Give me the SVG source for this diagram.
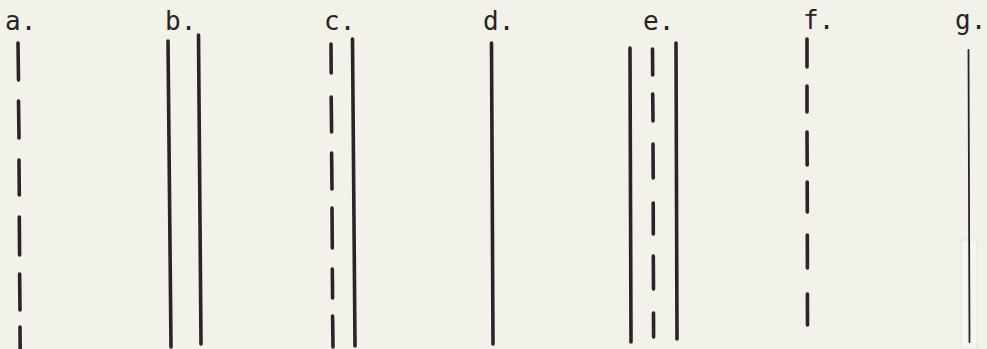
<svg xmlns="http://www.w3.org/2000/svg" width="987" height="349" viewBox="0 0 987 349">
<style>
.bg{fill:#f2f1ea}
.lbl{font-family:"DejaVu Sans Mono","Liberation Mono",monospace;font-size:26px;fill:#2a2326}
.ln{stroke:#2b2427;stroke-width:3.6;stroke-linecap:round;fill:none}
.thin{stroke:#2b2427;stroke-width:1.8;stroke-linecap:round;fill:none}
</style>
<rect class="bg" x="0" y="0" width="987" height="349"/>
<g id="a">
<text class="lbl" x="5" y="30">a.</text>
<line class="ln" x1="18" y1="43" x2="18.5" y2="80"/>
<line class="ln" x1="18.5" y1="101" x2="19" y2="138"/>
<line class="ln" x1="19" y1="160" x2="19.3" y2="195"/>
<line class="ln" x1="19.3" y1="217" x2="19.6" y2="255"/>
<line class="ln" x1="19.6" y1="274" x2="20" y2="310"/>
<line class="ln" x1="20" y1="327" x2="20.2" y2="352"/>
</g>
<g id="b">
<text class="lbl" x="165" y="30">b.</text>
<line class="ln" x1="168" y1="41" x2="171" y2="347"/>
<line class="ln" x1="198.5" y1="35" x2="201" y2="344"/>
</g>
<g id="c">
<text class="lbl" x="324" y="30">c.</text>
<line class="ln" x1="331" y1="44" x2="331.2" y2="73"/>
<line class="ln" x1="331.2" y1="97" x2="331.6" y2="132"/>
<line class="ln" x1="331.6" y1="153" x2="332" y2="189"/>
<line class="ln" x1="332" y1="208" x2="332.3" y2="248"/>
<line class="ln" x1="332.3" y1="269" x2="332.6" y2="298"/>
<line class="ln" x1="332.6" y1="316" x2="333" y2="347"/>
<line class="ln" x1="352.5" y1="39" x2="355" y2="346"/>
</g>
<g id="d">
<text class="lbl" x="483" y="30">d.</text>
<line class="ln" x1="491.5" y1="43" x2="493" y2="344"/>
</g>
<g id="e">
<text class="lbl" x="643" y="30">e.</text>
<line class="ln" x1="630" y1="48" x2="631" y2="342"/>
<line class="ln" x1="652.5" y1="49" x2="652.7" y2="75"/>
<line class="ln" x1="652.7" y1="94" x2="653" y2="121"/>
<line class="ln" x1="653" y1="144" x2="653.2" y2="178"/>
<line class="ln" x1="653.2" y1="203" x2="653.3" y2="234"/>
<line class="ln" x1="653.3" y1="256" x2="653.5" y2="289"/>
<line class="ln" x1="653.5" y1="313" x2="653.6" y2="337"/>
<line class="ln" x1="676" y1="43" x2="677" y2="339"/>
</g>
<g id="f">
<text class="lbl" x="803" y="29">f.</text>
<line class="ln" x1="807" y1="39" x2="807" y2="67"/>
<line class="ln" x1="807" y1="86" x2="807" y2="112"/>
<line class="ln" x1="807" y1="132" x2="807.2" y2="165"/>
<line class="ln" x1="807.2" y1="182" x2="807.3" y2="212"/>
<line class="ln" x1="807.3" y1="235" x2="807.4" y2="268"/>
<line class="ln" x1="807.4" y1="294" x2="807.5" y2="325"/>
</g>
<g id="g">
<text class="lbl" x="955" y="29">g.</text>
<rect x="961" y="240" width="16" height="109" fill="#f5f5f1" stroke="#e4e3dd" stroke-width="1"/>
<line class="thin" x1="968.5" y1="50" x2="969.5" y2="342"/>
</g>
</svg>
